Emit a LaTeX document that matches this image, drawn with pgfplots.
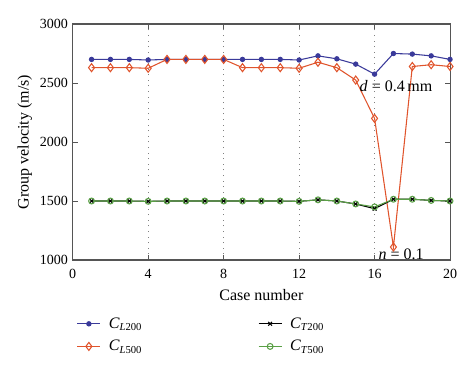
\documentclass[border=0pt]{standalone}
\usepackage{fontspec}
\setmainfont{Liberation Serif}
\usepackage{pgfplots}
\pgfplotsset{compat=1.18}
\definecolor{cblue}{HTML}{3A3A9A}
\definecolor{cred}{HTML}{E0542C}
\definecolor{cgreen}{HTML}{5AA046}
\definecolor{axgray}{HTML}{555555}
\newcommand{\Csub}[2]{\textit{C}\textsubscript{\textit{#1}#2}}
\begin{document}
\begin{tikzpicture}[x=0.75pt,y=0.75pt]
\begin{axis}[
  at={(0,0)}, anchor=south west,
  scale only axis,
  width=283pt, height=177pt,
  xmin=0, xmax=20, ymin=1000, ymax=3000,
  xtick={0,4,8,12,16,20},
  ytick={1000,1500,2000,2500,3000},
  xmajorgrids,
  grid style={gray, line width=0.7pt, dash pattern=on 0.7pt off 3.5pt},
  axis line style={axgray, line width=0.8pt},
  tick style={axgray, line width=0.6pt},
  tick align=inside,
  major tick length=4pt,
  tick label style={font=\fontsize{10.5}{12}\selectfont},
  xticklabel style={yshift=-3.5pt},
  label style={font=\fontsize{12}{14}\selectfont},
  /pgf/number format/assume math mode=true,
  /pgf/number format/1000 sep={},
  xlabel={Case number},
  ylabel={Group velocity (m/s)},
  xlabel style={yshift=-1pt},
  ylabel style={yshift=-1pt},
  legend columns=2,
  transpose legend,
  legend style={draw=none, fill=none, at={(0.0,-0.22)}, anchor=north west,
    font=\fontsize{12}{14}\selectfont, row sep=3.5pt,
    /tikz/every odd column/.style={column sep=4pt},
    /tikz/column 2/.style={column sep=85pt}},
  legend cell align=left,
  clip=false,
]
\addplot[cblue, line width=0.8pt, mark=*, mark size=1.6pt] coordinates {
(1,2700)(2,2700)(3,2700)(4,2695)(5,2700)(6,2700)(7,2700)(8,2700)(9,2700)(10,2700)
(11,2700)(12,2695)(13,2730)(14,2705)(15,2660)(16,2575)(17,2750)(18,2745)(19,2730)(20,2700)};
\addlegendentry{\Csub{L}{200}}
\addplot[cred, line width=0.8pt, mark=diamond, mark size=3pt, mark options={fill=white}] coordinates {
(1,2630)(2,2630)(3,2630)(4,2625)(5,2700)(6,2700)(7,2700)(8,2700)(9,2630)(10,2630)
(11,2630)(12,2625)(13,2676)(14,2630)(15,2525)(16,2200)(17,1110)(18,2640)(19,2655)(20,2640)};
\addlegendentry{\Csub{L}{500}}
\addplot[black, line width=0.8pt, mark=x, mark size=2pt] coordinates {
(1,1500)(2,1500)(3,1500)(4,1497)(5,1500)(6,1500)(7,1500)(8,1500)(9,1500)(10,1500)
(11,1500)(12,1497)(13,1510)(14,1500)(15,1475)(16,1435)(17,1515)(18,1515)(19,1505)(20,1500)};
\addlegendentry{\Csub{T}{200}}
\addplot[cgreen, line width=0.8pt, mark=o, mark size=2.2pt] coordinates {
(1,1500)(2,1500)(3,1500)(4,1497)(5,1500)(6,1500)(7,1500)(8,1500)(9,1500)(10,1500)
(11,1500)(12,1497)(13,1510)(14,1500)(15,1475)(16,1450)(17,1515)(18,1515)(19,1505)(20,1500)};
\addlegendentry{\Csub{T}{500}}
\node[anchor=west, font=\fontsize{12}{14}\selectfont, inner sep=0pt] at (axis cs:15.2,2470) {\textit{d} = 0.4\,mm};
\node[anchor=west, font=\fontsize{12}{14}\selectfont, inner sep=0pt] at (axis cs:16.2,1045) {\textit{n} = 0.1};
\end{axis}
\path[use as bounding box] (-72.7,-109) rectangle (401.3,260);
\end{tikzpicture}
\end{document}
